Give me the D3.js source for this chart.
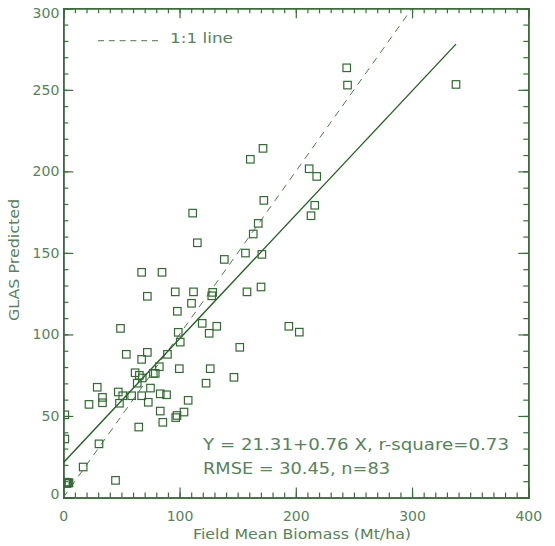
<!DOCTYPE html>
<html><head><meta charset="utf-8">
<script src="https://cdn.jsdelivr.net/npm/d3@7"></script>
<style>
html,body{margin:0;padding:0;background:#fff;}
svg{display:block;}
text{font-family:"DejaVu Sans",sans-serif;}
</style></head>
<body>
<script>
// ---- data ----
const fieldBiomass = [243.8,244.5,337.8,171.8,160.9,211.5,218.0,216.3,213.1,172.5,
  167.7,163.4,111.3,115.3,138.5,156.7,170.8,84.9,67.4,72.3,
  96.3,112.0,128.5,127.7,158.0,170.1,110.3,98.1,49.2,98.9,
  100.6,119.5,125.5,132.0,194.0,203.0,151.8,54.2,72.3,67.4,
  89.6,61.8,65.4,67.9,77.4,79.1,82.6,99.8,126.4,122.8,
  146.8,63.6,75.0,29.2,33.7,33.7,22.1,47.3,51.1,58.8,
  67.4,48.3,73.1,83.4,88.8,83.4,85.6,96.7,97.8,103.8,
  107.4,64.9,30.7,17.1,44.9,1.3,1.3,2.3,3.6,4.9,
  3.0,1.8,4.2];
const glasPredicted = [263.5,252.9,253.3,214.1,207.4,201.6,196.9,179.2,172.8,182.2,
  168.1,161.6,174.4,156.2,146.0,149.9,149.1,138.1,138.1,123.4,
  126.1,126.1,125.8,123.7,126.1,129.1,119.1,114.2,103.7,101.3,
  95.3,106.8,100.7,105.0,105.0,101.4,92.1,87.8,89.0,84.7,
  87.8,76.5,74.9,73.3,76.1,76.1,80.2,79.0,79.0,70.1,
  73.7,70.1,67.1,67.6,61.4,58.1,57.1,64.7,62.4,62.4,
  62.4,57.8,58.4,63.6,63.0,53.0,46.1,49.0,50.3,52.4,
  59.6,43.2,32.9,18.7,10.5,50.7,35.9,9.1,9.1,9.1,
  8.6,9.4,8.8];
const fitIntercept = 21.31;
const fitSlope = 0.76;
const xTickValues = [0,100,200,300,400];
const yTickValues = [0,50,100,150,200,250,300];
const xDomain = [0,400];
const yDomain = [0,300];
const statLines = ["Y = 21.31+0.76 X, r-square=0.73", "RMSE = 30.45, n=83"];
const legendLabel = "1:1 line";
const xTitle = "Field Mean Biomass (Mt/ha)";
const yTitle = "GLAS Predicted";

// ---- layout ----
const W = 555, H = 546;
const L = 63.3, R = 528.3, T = 8.3, B = 497.5;
const axisColor = "#3b6d3b", textColor = "#55835a", markColor = "#336a33";

const svg = d3.select("body").append("svg").attr("width", W).attr("height", H);
const x = d3.scaleLinear().domain(xDomain).range([L, R]);
const y = d3.scaleLinear().domain(yDomain).range([B, T]);

svg.append("defs").append("clipPath").attr("id","plotclip")
  .append("rect").attr("x", L).attr("y", T).attr("width", R-L).attr("height", B-T);

const fmt = d3.format("d");
function styleAxis(g){
  g.select(".domain").attr("stroke", axisColor).attr("stroke-width", 1.6);
  g.selectAll(".tick line").attr("stroke", axisColor).attr("stroke-width", 1.2);
  g.selectAll("text").attr("fill", textColor).style("font-size","14px").style("font-family","DejaVu Sans");
}
const minorX = d3.range(0, 401, 10), minorY = d3.range(0, 301, 10);

// minor ticks
svg.append("g").attr("transform",`translate(0,${B})`).call(d3.axisBottom(x).tickValues(minorX).tickSize(-5).tickFormat("")).call(styleAxis);
svg.append("g").attr("transform",`translate(0,${T})`).call(d3.axisTop(x).tickValues(minorX).tickSize(-5).tickFormat("")).call(styleAxis);
svg.append("g").attr("transform",`translate(${L},0)`).call(d3.axisLeft(y).tickValues(minorY).tickSize(-5).tickFormat("")).call(styleAxis);
svg.append("g").attr("transform",`translate(${R},0)`).call(d3.axisRight(y).tickValues(minorY).tickSize(-5).tickFormat("")).call(styleAxis);
// major ticks
svg.append("g").attr("transform",`translate(0,${B})`).call(d3.axisBottom(x).tickValues(xTickValues).tickSize(-10).tickPadding(14).tickFormat(fmt)).call(styleAxis);
svg.append("g").attr("transform",`translate(0,${T})`).call(d3.axisTop(x).tickValues(xTickValues).tickSize(-10).tickFormat("")).call(styleAxis);
const yAx = svg.append("g").attr("transform",`translate(${L},0)`).call(d3.axisLeft(y).tickValues(yTickValues).tickSize(-10).tickPadding(4).tickFormat(fmt)).call(styleAxis);
svg.append("g").attr("transform",`translate(${R},0)`).call(d3.axisRight(y).tickValues(yTickValues).tickSize(-10).tickFormat("")).call(styleAxis);
yAx.selectAll(".tick").filter(d => d === 300).select("text").attr("y", 5);
yAx.selectAll(".tick").filter(d => d === 0).select("text").attr("y", -3);

const plot = svg.append("g").attr("clip-path","url(#plotclip)");

// 1:1 line
plot.append("line")
  .attr("x1", x(0)).attr("y1", y(0)).attr("x2", x(300)).attr("y2", y(300))
  .attr("stroke", "#4d7a4d").attr("stroke-width", 1).attr("stroke-dasharray","7,6");

// regression line
const xMax = d3.max(fieldBiomass);
plot.append("line")
  .attr("x1", x(0)).attr("y1", y(fitIntercept)).attr("x2", x(xMax)).attr("y2", y(fitIntercept + fitSlope*xMax))
  .attr("stroke", "#1f5f1f").attr("stroke-width", 1.3);

// points
const S = 7.5;
plot.selectAll("rect.pt").data(d3.zip(fieldBiomass, glasPredicted)).enter().append("rect")
  .attr("class","pt")
  .attr("x", d => x(d[0]) - S/2).attr("y", d => y(d[1]) - S/2)
  .attr("width", S).attr("height", S)
  .attr("fill","none").attr("stroke", markColor).attr("stroke-width", 1.2);

// legend
svg.append("line").attr("x1", 98).attr("x2", 158).attr("y1", 40.7).attr("y2", 40.7)
  .attr("stroke", "#4d7a4d").attr("stroke-width", 1).attr("stroke-dasharray","6,4.8");
svg.append("text").attr("x", 170).attr("y", 43.3).attr("fill", textColor)
  .style("font-size","14px").attr("textLength", 63).attr("lengthAdjust","spacingAndGlyphs").text(legendLabel);

// stats text
svg.append("text").attr("x", 203).attr("y", 450).attr("fill", textColor)
  .style("font-size","16.5px").attr("textLength", 306).attr("lengthAdjust","spacingAndGlyphs").text(statLines[0]);
svg.append("text").attr("x", 203).attr("y", 474).attr("fill", textColor)
  .style("font-size","16.5px").attr("textLength", 187).attr("lengthAdjust","spacingAndGlyphs").text(statLines[1]);

// axis titles
svg.append("text").attr("x", 302).attr("y", 539).attr("text-anchor","middle").attr("fill", textColor)
  .style("font-size","13.5px").attr("textLength", 218).attr("lengthAdjust","spacingAndGlyphs").text(xTitle);
svg.append("text").attr("transform", "translate(19,260) rotate(-90)").attr("text-anchor","middle").attr("fill", textColor)
  .style("font-size","13.5px").attr("textLength", 122).attr("lengthAdjust","spacingAndGlyphs").text(yTitle);
</script>
</body></html>
